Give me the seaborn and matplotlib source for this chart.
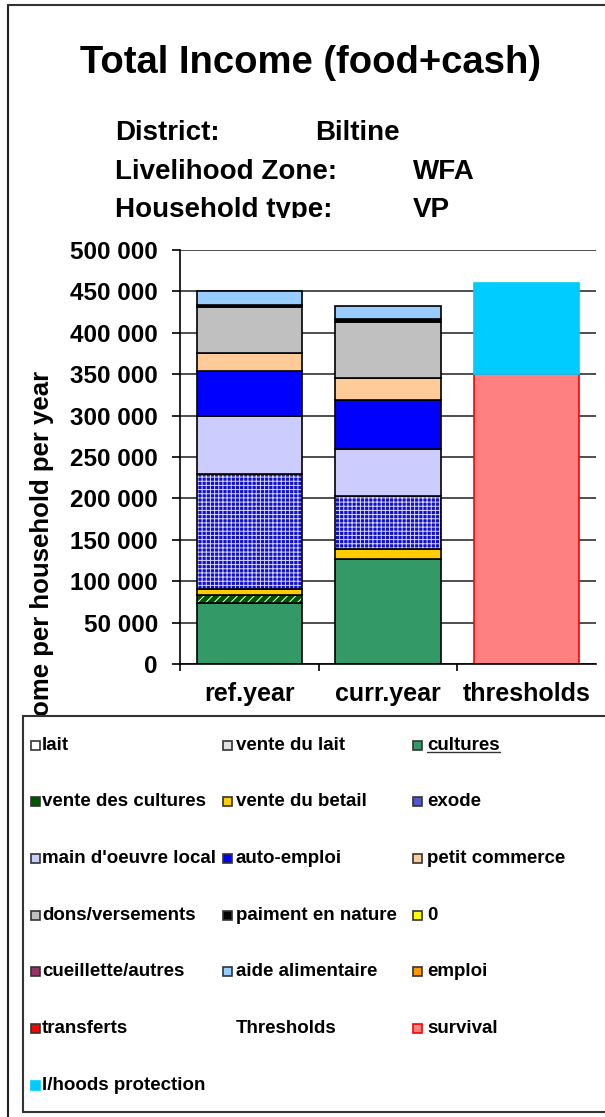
import pandas as pd
import matplotlib
matplotlib.use('Agg')
import matplotlib.pyplot as plt
from matplotlib.patches import Rectangle
from matplotlib.lines import Line2D
from matplotlib.ticker import FuncFormatter, MultipleLocator
import seaborn as sns

# data
periods = ['ref.year', 'curr.year', 'thresholds']
sources = ['lait', 'vente du lait', 'cultures', 'vente des cultures', 'vente du betail',
           'exode', "main d'oeuvre local", 'auto-emploi', 'petit commerce',
           'dons/versements', 'paiment en nature', '0', 'cueillette/autres',
           'aide alimentaire', 'emploi', 'transferts']
ref_year = [0, 0, 73500, 10000, 7000, 138500, 70000, 55000, 22000,
            55500, 2000, 0, 0, 17000, 0, 0]
curr_year = [0, 0, 127000, 0, 12000, 63500, 57500, 58500, 27000,
             68000, 3000, 0, 0, 16000, 0, 0]
threshold_names = ['survival', 'l/hoods protection']
threshold_values = [350000, 110000]

source_colors = ['#FFFFFF', '#E0E0E0', '#339966', '#005500', '#FFCC00', '#1010CC',
                 '#CCCCFF', '#0000FF', '#FFCC99', '#C0C0C0', '#000000', '#FFFF00',
                 '#993366', '#99CCFF', '#FF9900', '#FF0000']
threshold_colors = ['#FF8080', '#00CCFF']
threshold_edges = ['#FF0000', '#00CCFF']
hatches = {'exode': ('++++', '#D8D8FF'), 'vente des cultures': ('////', 'white')}

sns.set_theme(style='white')
plt.rcParams['font.family'] = ['Liberation Sans', 'DejaVu Sans']
plt.rcParams['font.weight'] = 'bold'
for k in ['text.color', 'axes.labelcolor', 'xtick.color', 'ytick.color']:
    plt.rcParams[k] = 'black'
plt.rcParams['hatch.linewidth'] = 0.7

W, H = 605, 1117


def fx(x):
    return x / W


def fy(y):
    return 1 - y / H


df = pd.DataFrame({'period': ['ref.year'] * len(sources) + ['curr.year'] * len(sources),
                   'source': sources * 2,
                   'value': ref_year + curr_year})
tdf = pd.DataFrame({'period': ['thresholds'] * 2, 'level': threshold_names,
                    'value': threshold_values})

fig = plt.figure(figsize=(W / 100, H / 100), dpi=100)
ax = fig.add_axes([fx(180), fy(664), (596 - 180) / W, (664 - 250) / H])
ax.set_axisbelow(True)
ax.yaxis.grid(True, color='#404040', linewidth=1.3)

# stacked income bars
stack = {p: 0 for p in periods}
for src, col in zip(sources, source_colors):
    sub = df[(df.source == src) & (df.value > 0)]
    if sub.empty:
        continue
    kw = dict(data=sub, x='period', y='value', order=periods, errorbar=None,
              saturation=1, width=0.76, bottom=[stack[p] for p in sub.period], ax=ax)
    if src in hatches:
        pattern, hcol = hatches[src]
        sns.barplot(**kw, color=col, edgecolor=hcol, linewidth=0, hatch=pattern)
        sns.barplot(**kw, color='black', facecolor='none', edgecolor='black', linewidth=1.2)
    else:
        sns.barplot(**kw, color=col, edgecolor='black', linewidth=1.2)
    for p, v in zip(sub.period, sub.value):
        stack[p] += v

# thresholds bar
base = 0
for i in range(len(tdf)):
    sns.barplot(data=tdf.iloc[[i]], x='period', y='value', order=periods, errorbar=None,
                saturation=1, width=0.76, bottom=[base], color=threshold_colors[i],
                edgecolor=threshold_edges[i], linewidth=1.2, ax=ax)
    base += tdf.value.iloc[i]

ax.set_xlim(-0.5, 2.5)
ax.set_ylim(0, 500000)
ax.yaxis.set_major_locator(MultipleLocator(50000))
ax.yaxis.set_major_formatter(FuncFormatter(lambda v, _: f'{int(v):,}'.replace(',', ' ')))
ax.set_xticks(range(3))
ax.set_xticklabels(periods)
ax.set_xticks([-0.5, 0.5, 1.5], minor=True)
ax.tick_params(axis='y', left=True, length=6, width=1.2, pad=10, labelsize=17.5)
ax.tick_params(axis='x', which='major', bottom=False, length=0, pad=13, labelsize=18)
ax.tick_params(axis='x', which='minor', bottom=True, length=5, width=1.2)
for s in ['top', 'right']:
    ax.spines[s].set_visible(False)
for s in ['left', 'bottom']:
    ax.spines[s].set_color('black')
    ax.spines[s].set_linewidth(1.2)
ax.set_xlabel('')
ax.set_ylabel('Income per household per year', fontsize=18.5, fontweight='bold', va='center')
ax.yaxis.set_label_coords((42 - 180) / 416, (664 - 562) / 414)
# the legend box cuts the start of the axis title, as in the original
ax.yaxis.label.set_clip_path(Rectangle((0, fy(716)), 1, 1 - fy(716) + 0.1,
                                       transform=fig.transFigure))

# titles
fig.text(fx(311), fy(63), 'Total Income (food+cash)', ha='center', va='center',
         fontsize=27.5, fontweight='bold')
info = [('District:', 'Biltine', 315, 133), ('Livelihood Zone:', 'WFA', 413, 172),
        ('Household type:', 'VP', 413, 210)]
for lab, val, xv, y in info:
    fig.text(fx(115), fy(y), lab, ha='left', va='center', fontsize=20, fontweight='bold')
    fig.text(fx(xv), fy(y), val, ha='left', va='center', fontsize=20, fontweight='bold')
# plot area hides the bottom of the last info line
fig.add_artist(Rectangle((fx(60), fy(236)), 480 / W, 18 / H, facecolor='white',
                         edgecolor='none', transform=fig.transFigure, zorder=4))

# chart frame
fig.add_artist(Line2D([fx(8), fx(8)], [fy(5), 0], color='#222222', lw=1.5,
                      transform=fig.transFigure))
fig.add_artist(Line2D([fx(8), 1], [fy(5), fy(5)], color='#333333', lw=1.5,
                      transform=fig.transFigure))

# legend box
fig.add_artist(Rectangle((fx(23), fy(1112)), (W - 13) / W, (1112 - 716) / H,
                         facecolor='white', edgecolor='#333333', lw=1.5,
                         transform=fig.transFigure, zorder=2))
legend_labels = sources + ['Thresholds'] + threshold_names
legend_colors = source_colors + [None] + threshold_colors
legend_colors[5] = '#5555CC'
legend_edges = ['#333333'] * len(sources) + [None, '#FF0000', '#00CCFF']
col_marker = [31, 223, 413]
col_text = [42, 236, 427]
texts = {}
for i, (lab, col, ec) in enumerate(zip(legend_labels, legend_colors, legend_edges)):
    r, c = divmod(i, 3)
    y = 745 + r * 56.7
    if col is not None:
        fig.add_artist(Rectangle((fx(col_marker[c]), fy(y + 4.5)), 9 / W, 9 / H,
                                 facecolor=col, edgecolor=ec, lw=1.2,
                                 transform=fig.transFigure, zorder=3))
    texts[lab] = fig.text(fx(col_text[c]), fy(y), lab, ha='left', va='center',
                          fontsize=13.5, fontweight='bold', zorder=4)

fig.canvas.draw()
bb = texts['cultures'].get_window_extent()
fig.add_artist(Line2D([bb.x0 / W, bb.x1 / W], [(bb.y0 + 2) / H] * 2, color='#333333',
                      lw=1, transform=fig.transFigure, zorder=4))

fig.savefig('out.png', dpi=100)
